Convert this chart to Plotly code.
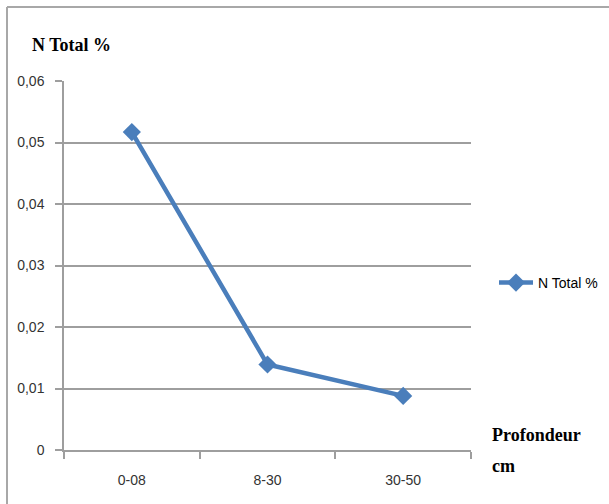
import plotly.graph_objects as go

# Soil depth classes and total nitrogen content
depths = ["0-08", "8-30", "30-50"]
n_total = [0.0517, 0.0139, 0.0088]

y_ticks = [0, 0.01, 0.02, 0.03, 0.04, 0.05, 0.06]
y_tick_labels = ["0", "0,01", "0,02", "0,03", "0,04", "0,05", "0,06"]

W, H = 609, 504
L, R, T, B = 64, 138, 81, 54
pw, ph = W - L - R, H - T - B


def px_x(px):
    return (px - L) / pw


def px_y(py):
    return (H - B - py) / ph


blue = "#4A7EBB"
grid = "#9E9E9E"
tick_font = dict(family="Liberation Sans Narrow, Arial Narrow, sans-serif", size=14, color="#333333")
title_font = dict(family="Liberation Serif, Times New Roman, serif", size=18, color="#000000")

fig = go.Figure()
fig.add_trace(go.Scatter(
    x=depths, y=n_total, name="N Total %",
    mode="lines+markers",
    line=dict(color=blue, width=4.5),
    marker=dict(symbol="diamond", size=14, color=blue),
))

fig.update_layout(
    width=W, height=H,
    margin=dict(l=L, r=R, t=T, b=B, autoexpand=False),
    paper_bgcolor="white", plot_bgcolor="white",
    showlegend=True,
    legend=dict(
        x=px_x(494), y=px_y(283), xanchor="left", yanchor="middle",
        font=dict(family="Liberation Sans Narrow, Arial Narrow, sans-serif", size=14, color="#000000"),
        itemwidth=34, bgcolor="rgba(0,0,0,0)",
    ),
    xaxis=dict(
        type="category", range=[-0.5, 2.5],
        showline=True, linecolor=grid, linewidth=1.5,
        ticks="outside", tickson="boundaries", ticklen=7, tickcolor=grid, tickwidth=1.5,
        showgrid=False, tickfont=tick_font, ticklabelstandoff=16,
        zeroline=False,
    ),
    yaxis=dict(
        range=[0, 0.06], tickvals=y_ticks, ticktext=y_tick_labels,
        showline=True, linecolor=grid, linewidth=1.5,
        ticks="outside", ticklen=7, tickcolor=grid, tickwidth=1.5,
        showgrid=True, gridcolor=grid, gridwidth=1.5,
        zeroline=False, tickfont=tick_font, ticklabelstandoff=8,
    ),
    shapes=[
        # chart frame: top and left edges
        dict(type="line", xref="paper", yref="paper",
             x0=px_x(7), x1=px_x(W + 5), y0=px_y(7), y1=px_y(7),
             line=dict(color="#A8A8A8", width=2)),
        dict(type="line", xref="paper", yref="paper",
             x0=px_x(7), x1=px_x(7), y0=px_y(7), y1=px_y(H + 5),
             line=dict(color="#A8A8A8", width=2)),
    ],
    annotations=[
        dict(text="<b>N Total %</b>", xref="paper", yref="paper",
             x=px_x(30), y=px_y(45), xanchor="left", yanchor="middle",
             showarrow=False, font=title_font),
        dict(text="<b>Profondeur</b>", xref="paper", yref="paper",
             x=px_x(490), y=px_y(435), xanchor="left", yanchor="middle",
             showarrow=False, font=title_font),
        dict(text="<b>cm</b>", xref="paper", yref="paper",
             x=px_x(490), y=px_y(466), xanchor="left", yanchor="middle",
             showarrow=False, font=title_font),
    ],
)

fig.write_html("out.html")
